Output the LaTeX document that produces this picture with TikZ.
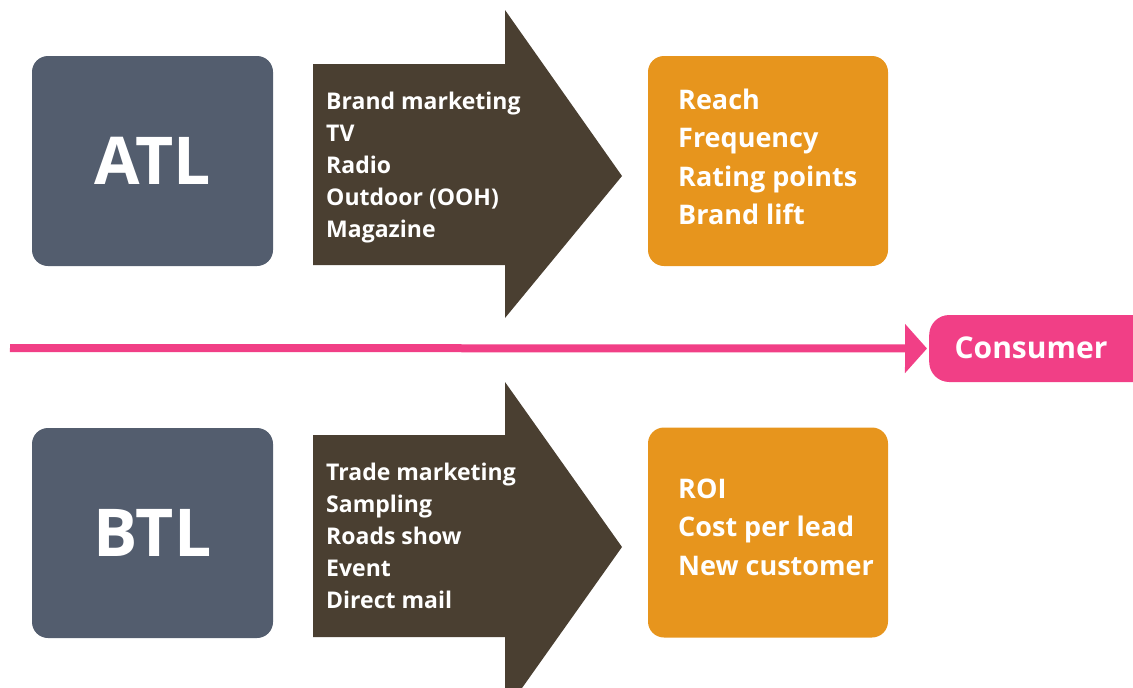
\documentclass[tikz,border=0pt]{standalone}
\usepackage{fontspec}
\setmainfont{Open Sans}
\usetikzlibrary{arrows.meta}
\definecolor{slate}{HTML}{535D6E}
\definecolor{darkbrown}{HTML}{4A3F31}
\definecolor{amber}{HTML}{E7951D}
\definecolor{hotpink}{HTML}{F13F86}
\tikzset{
  catbox/.style={fill=slate, rounded corners=16pt, minimum width=241pt, minimum height=210pt, inner sep=0pt, text=white, font=\bfseries\fontsize{66}{80}\selectfont},
  resbox/.style={fill=amber, rounded corners=16pt, minimum width=240pt, minimum height=210pt, inner sep=0pt},
  restext/.style={text=white, align=left, inner sep=0pt, anchor=base west, font=\bfseries\fontsize{27}{38.5}\selectfont},
  bigarrow/.style={fill=darkbrown},
  listtext/.style={text=white, align=left, inner sep=0pt, anchor=base west, font=\bfseries\fontsize{23}{32}\selectfont},
  pillbox/.style={fill=hotpink, rounded corners=20pt, minimum width=240pt, minimum height=67pt, inner sep=0pt, anchor=west},
  flowline/.style={draw=hotpink, line width=8pt, -{Triangle[length=22pt,width=48pt]}}
}
\begin{document}
\begin{tikzpicture}[x=1pt,y=-1pt]
\useasboundingbox (0,0) rectangle (1133,688);
\clip (0,0) rectangle (1133,688);
% ATL row
\node[catbox] (atl) at (152.5,161) {ATL};
\fill[bigarrow] (313,64) -- (505,64) -- (505,10) -- (622,176) -- (505,318) -- (505,265) -- (313,265) -- cycle;
\node[listtext] (atlmedia) at (326,237) {Brand marketing\\TV\\Radio\\Outdoor (OOH)\\Magazine};
\node[resbox] (atlres) at (768,161) {};
\node[restext] (atlrestext) at (678,224.5) {Reach\\Frequency\\Rating points\\Brand lift};
% BTL row
\node[catbox] (btl) at (152.5,533) {BTL};
\fill[bigarrow] (313,435) -- (505,435) -- (505,382) -- (622,547) -- (505,712) -- (505,637) -- (313,637) -- cycle;
\node[listtext] (btlmedia) at (326,608) {Trade marketing\\Sampling\\Roads show\\Event\\Direct mail};
\node[resbox] (btlres) at (768,532.5) {};
\node[restext] (btlrestext) at (678,575) {ROI\\Cost per lead\\New customer};
% consumer
\node[pillbox] (consumer) at (929,348.5) {};
\node[text=white, font=\bfseries\fontsize{30}{36}\selectfont, inner sep=0pt] (consumerlabel) at (1031,348) {Consumer};
\coordinate (linestart) at (10,348);
\draw[flowline] (linestart) -- ([xshift=-2pt]consumer.west);
\end{tikzpicture}
\end{document}
